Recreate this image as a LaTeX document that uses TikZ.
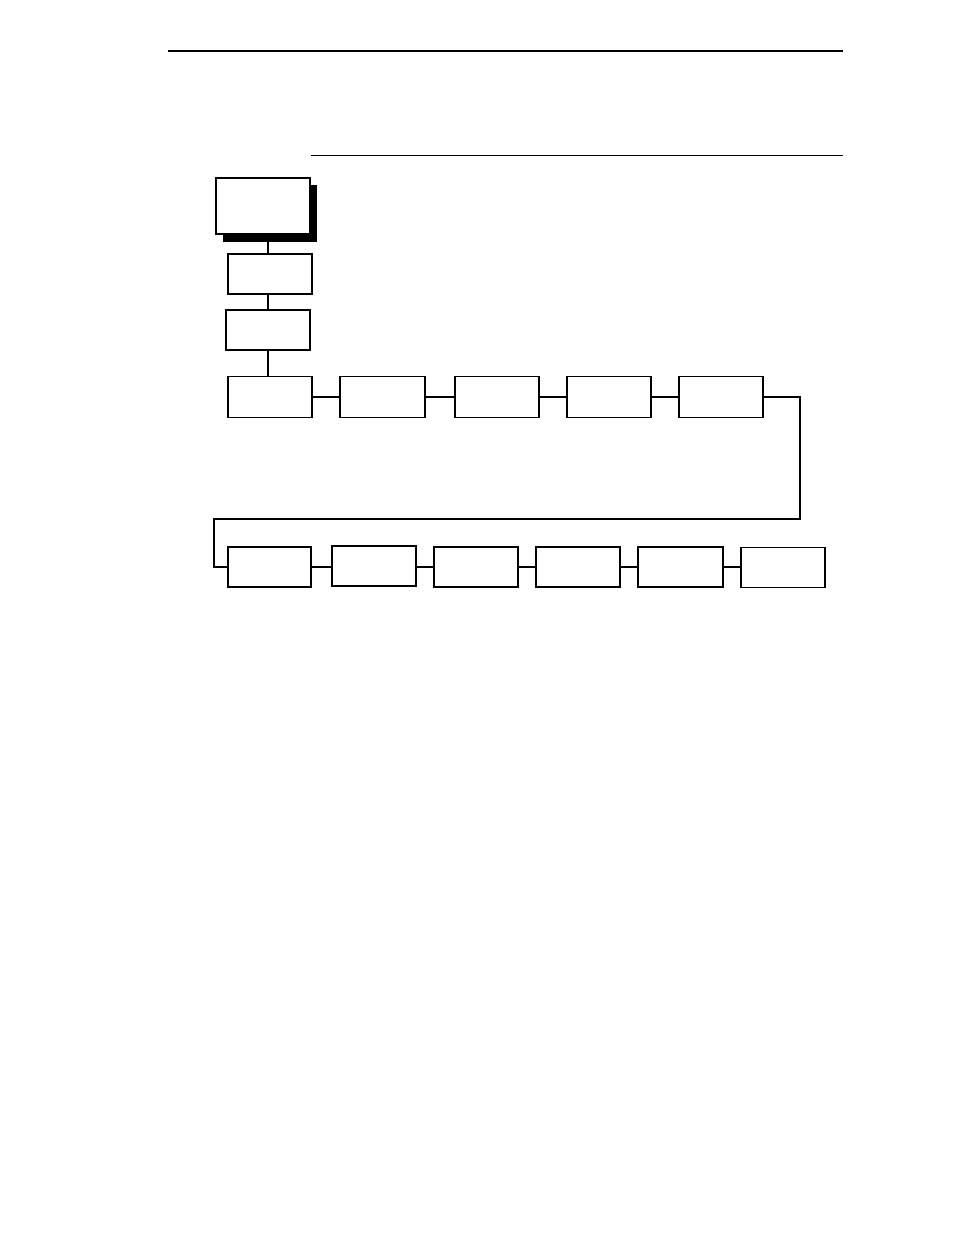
\documentclass[tikz,border=0pt]{standalone}
\begin{document}
\begin{tikzpicture}[x=1pt,y=-1pt,
  box/.style={draw,line width=1.2pt,fill=white,inner sep=0pt,minimum width=84pt,minimum height=40pt},
  conn/.style={line width=1.1pt}]
\useasboundingbox (0,0) rectangle (954,1235);
% header rules
\coordinate (r1a) at (168,51); \coordinate (r1b) at (843,51);
\coordinate (r2a) at (311,155); \coordinate (r2b) at (843,155);
\draw[line width=2pt] (r1a) -- (r1b);
\draw[line width=1pt] (r2a) -- (r2b);
% top box with shadow
\fill[black] (223,185) rectangle (317,242);
\node[box,minimum width=94pt,minimum height=56pt] (top) at (263,206) {};
\node[box] (b2) at (270,274) {};
\node[box] (b3) at (268,330) {};
% row 1
\node[box,minimum height=41pt] (A) at (270,397) {};
\node[box,minimum height=41pt,minimum width=85pt] (B) at (382.5,397) {};
\node[box,minimum height=41pt] (C) at (497,397) {};
\node[box,minimum height=41pt] (D) at (609,397) {};
\node[box,minimum height=41pt] (E) at (721,397) {};
% row 2
\node[box,minimum width=83pt] (F) at (269.5,567) {};
\node[box] (G) at (374,566) {};
\node[box] (H) at (476,567) {};
\node[box] (I) at (578,567) {};
\node[box,minimum width=85pt] (J) at (680.5,567) {};
\node[box] (K) at (783,567.5) {};
% connectors
\coordinate (s1) at (268,242);
\draw[conn] (s1) -- (s1 |- b2.north);
\draw[conn] (b3.north) -- (b3.north |- b2.south);
\draw[conn] (b3.south) -- (A.north -| b3.south);
\draw[conn] (A.east) -- (B.west);
\draw[conn] (B.east) -- (C.west);
\draw[conn] (C.east) -- (D.west);
\draw[conn] (D.east) -- (E.west);
\coordinate (t1) at (800,519);
\coordinate (t2) at (214,519);
\draw[conn] (E.east) -| (t1) -- (t2) |- (F.west);
\draw[conn] (F.east) -- (F.east -| G.west);
\draw[conn] (G.east |- F.east) -- (H.west);
\draw[conn] (H.east) -- (I.west);
\draw[conn] (I.east) -- (J.west);
\draw[conn] (J.east) -- (J.east -| K.west);
\end{tikzpicture}
\end{document}
